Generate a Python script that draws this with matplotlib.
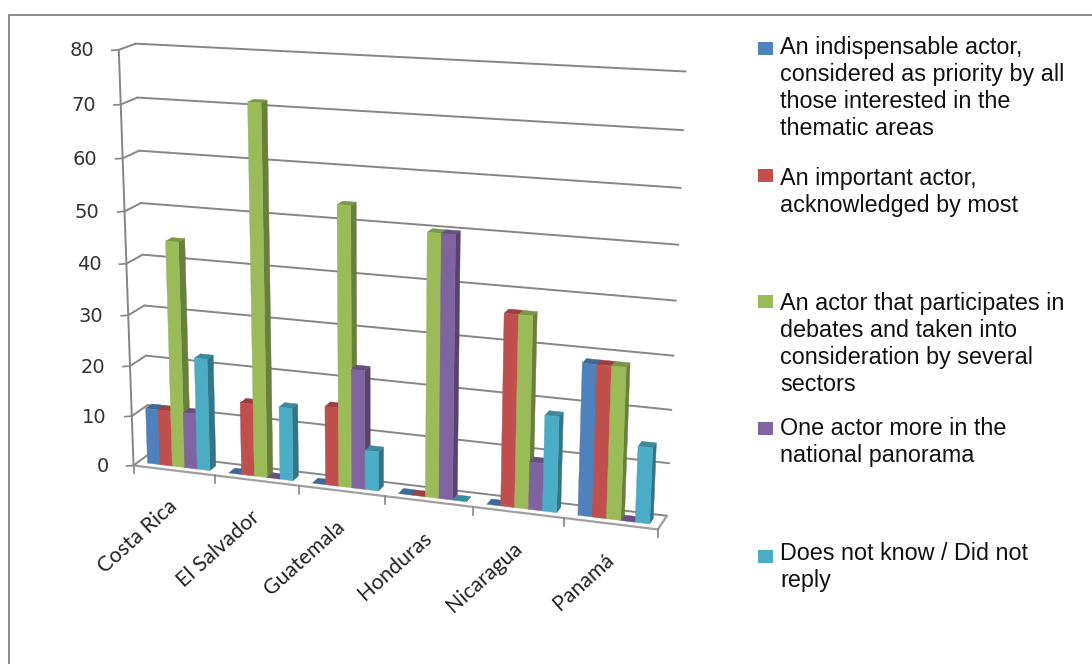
import numpy as np
import matplotlib
matplotlib.use("Agg")
import matplotlib.pyplot as plt
from matplotlib.patches import Polygon, Rectangle
from matplotlib.colors import to_rgb

# ---- data -------------------------------------------------------------
countries = ["Costa Rica", "El Salvador", "Guatemala", "Honduras", "Nicaragua", "Panamá"]
indispensable = [11.1, 0, 0, 0, 0, 28.6]
important = [11.1, 14.3, 15.4, 0, 36.4, 28.6]
participates = [44.4, 71.4, 53.8, 50, 36.4, 28.6]
one_more = [11.1, 0, 23.1, 50, 9.1, 0]
no_reply = [22.2, 14.3, 7.7, 0, 18.2, 14.3]
value_ticks = [0, 10, 20, 30, 40, 50, 60, 70, 80]
series = [indispensable, important, participates, one_more, no_reply]
series_colors = ["#4F81BD", "#C0504D", "#9BBB59", "#8064A2", "#4BACC6"]
legend_labels = [
    "An indispensable actor,\nconsidered as priority by all\nthose interested in the\nthematic areas",
    "An important actor,\nacknowledged by most",
    "An actor that participates in\ndebates and taken into\nconsideration by several\nsectors",
    "One actor more in the\nnational panorama",
    "Does not know / Did not\nreply",
]

W, H = 1092, 664
VMAX = 80.0
N = len(countries)

# ---- perspective camera, solved from reference points of the plot box --
# (category position, value, depth) -> pixel, depth 0 at the front, 1 at the wall
anchors = [
    (0, 0, 0, 135, 463), (0, 80, 0, 118, 49), (0, 40, 0, 127, 262),
    (1, 0, 0, 216, 477), (3, 0, 0, 383, 502), (6, 0, 0, 657, 527),
    (0, 0, 1, 148, 453), (0, 80, 1, 136, 45), (0, 40, 1, 142, 255),
    (6, 0, 1, 667, 515), (6, 40, 1, 678, 300), (6, 80, 1, 685, 72),
]


def solve_camera(points):
    rows = []
    for c, v, d, px, py in points:
        X = [c / N, v / VMAX, d, 1.0]
        rows.append(X + [0, 0, 0, 0] + [-px / 1000 * a for a in X])
        rows.append([0, 0, 0, 0] + X + [-py / 1000 * a for a in X])
    _, _, vt = np.linalg.svd(np.array(rows))
    return vt[-1].reshape(3, 4)


CAMERA = solve_camera(anchors)


def project(c, v, d):
    p = CAMERA @ np.array([c / N, v / VMAX, d, 1.0])
    return p[0] / p[2] * 1000, p[1] / p[2] * 1000


def shade(color, factor):
    return tuple(a * factor for a in to_rgb(color))


plt.rcParams["font.family"] = ["Liberation Sans", "DejaVu Sans"]
fig = plt.figure(figsize=(W / 100, H / 100), dpi=100)
ax = fig.add_axes([0, 0, 1, 1])
ax.set_xlim(0, W)
ax.set_ylim(H, 0)
ax.axis("off")

FRAME = "#8C8C8C"
GRID = "#868686"

# chart border: left and top edges only
ax.plot([9, 9, W], [H, 15, 15], color=FRAME, lw=1.4, zorder=1)


def line3d(a, b, lw=1.4, color=GRID, z=2):
    pa, pb = project(*a), project(*b)
    ax.plot([pa[0], pb[0]], [pa[1], pb[1]], color=color, lw=lw, zorder=z,
            solid_capstyle="round")


# walls: gridlines run along the side wall and the back wall
for v in value_ticks:
    line3d((0, v, 0), (0, v, 1))
    line3d((0, v, 1), (N, v, 1))
    x0, y0 = project(0, v, 0)
    ax.plot([x0 - 7, x0], [y0 + 0.5, y0], color=GRID, lw=1.2, zorder=2)
    ax.text(x0 - 25, y0 + 1, str(v), ha="right", va="center", fontsize=14,
            family="DejaVu Sans", color="#333333")

line3d((0, 0, 0), (0, VMAX, 0))
line3d((0, 0, 0), (N, 0, 0), lw=1.6, color="#A0A0A0")
line3d((N, 0, 0), (N, 0, 1), lw=1.6, color="#A0A0A0")

for i in range(N + 1):
    x0, y0 = project(i, 0, 0)
    ax.plot([x0, x0], [y0, y0 + 8], color=GRID, lw=1.2, zorder=2)

# ---- bars --------------------------------------------------------------
BAR_W = 1 / 6.5
GAP = 0.115
D0, D1 = 0.3, 0.7


def face(corners, color, z):
    pts = [project(*c) for c in corners]
    ax.add_patch(Polygon(pts, closed=True, facecolor=color, edgecolor=color,
                         lw=0.3, zorder=z))


z = 3.0
for cat in range(N):
    for s, values in enumerate(series):
        v = values[cat]
        left = cat + GAP + s * BAR_W
        right = left + BAR_W
        col = series_colors[s]
        face([(right, 0, D0), (right, 0, D1), (right, v, D1), (right, v, D0)], shade(col, 0.68), z)
        face([(left, v, D0), (right, v, D0), (right, v, D1), (left, v, D1)], shade(col, 0.8), z + 0.001)
        if v > 0:
            face([(left, 0, D0), (right, 0, D0), (right, v, D0), (left, v, D0)], col, z + 0.002)
        z += 0.01

# ---- category labels ---------------------------------------------------
for i, name in enumerate(countries):
    x0, y0 = project(i + 0.5, 0, 0)
    ax.text(x0 - 6, y0 + 26, name, rotation=42, rotation_mode="anchor",
            ha="right", va="top", fontsize=15.3, family="Lato", color="#222222")

# ---- legend ------------------------------------------------------------
swatch_tops = [42, 169, 295, 422, 550]
text_tops = [36, 167, 292, 417, 542]
for label, color, top, text_top in zip(legend_labels, series_colors, swatch_tops, text_tops):
    ax.add_patch(Rectangle((758, top), 15, 13, facecolor=color, edgecolor="none", zorder=5))
    ax.text(780, text_top, label, ha="left", va="top", fontsize=16.85, linespacing=1.22,
            color="#111111", zorder=5)

fig.savefig("out.png", dpi=100, facecolor="white")
